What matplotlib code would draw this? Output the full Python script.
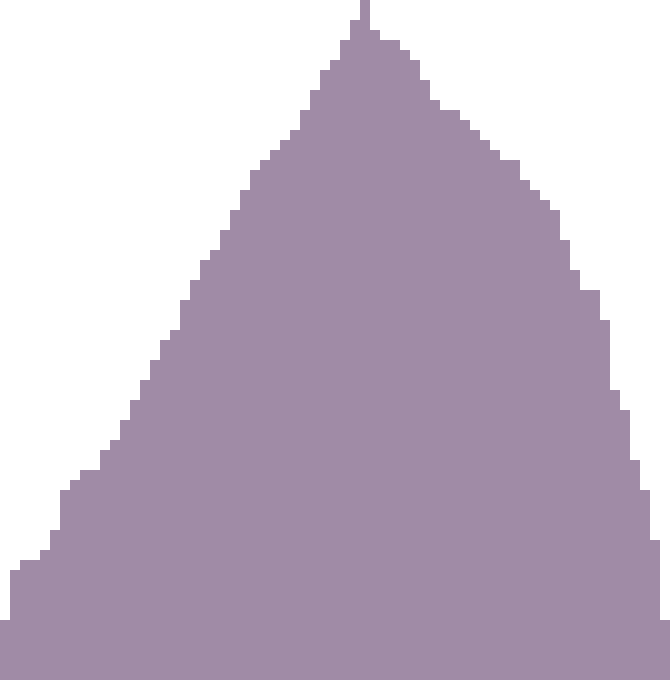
import matplotlib
matplotlib.use("Agg")
import matplotlib.pyplot as plt
import numpy as np

bins = list(range(67))
counts = [6, 11, 12, 12, 13, 15, 19, 20, 21, 21,
          23, 24, 26, 28, 30, 32, 34, 35, 38, 40,
          42, 43, 45, 47, 49, 51, 52, 53, 54, 55,
          57, 59, 61, 62, 64, 66, 68, 65, 64, 64,
          63, 62, 60, 58, 57, 57, 56, 55, 54, 53,
          52, 52, 50, 49, 48, 47, 44, 41, 39, 39,
          36, 29, 27, 22, 19, 14, 6]

fig = plt.figure(figsize=(6.7, 6.8), dpi=100)
ax = fig.add_axes([0, 0, 1, 1])
ax.bar(bins, counts, width=1.0, align="edge", color="#a08ba6", edgecolor="none", linewidth=0)
ax.set_xlim(0, len(bins))
ax.set_ylim(0, 68)
ax.axis("off")
fig.savefig("out.png", dpi=100)
